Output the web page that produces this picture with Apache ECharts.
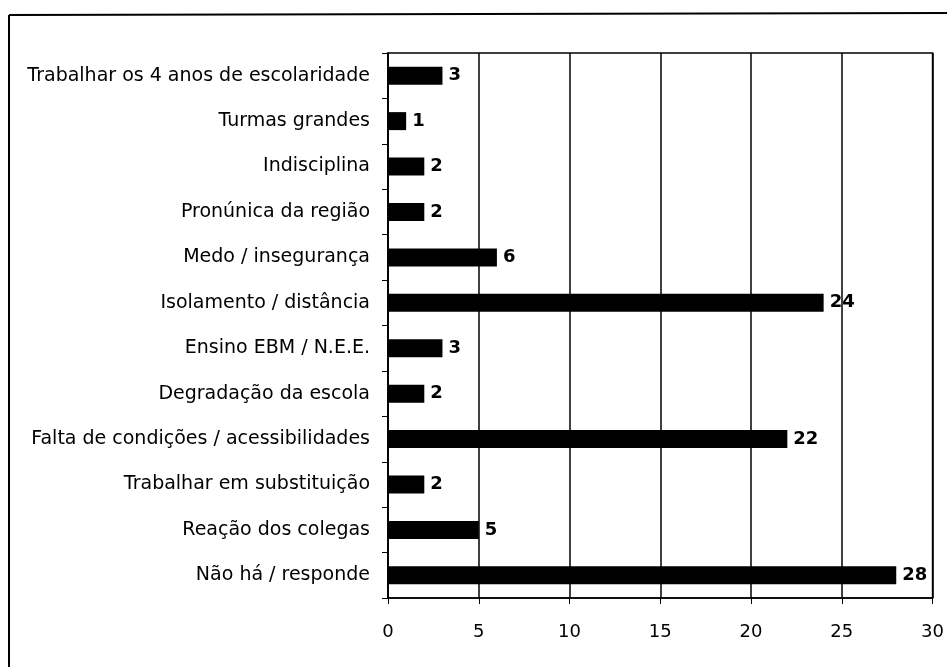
<!DOCTYPE html>
<html>
<head>
<meta charset="utf-8">
<script src="https://cdn.jsdelivr.net/npm/echarts@6/dist/echarts.min.js"></script>
<style>html,body{margin:0;padding:0;background:#fff;}#c{width:947px;height:667px;}</style>
</head>
<body>
<div id="c"></div>
<script>
const categories = [
  "Trabalhar os 4 anos de escolaridade",
  "Turmas grandes",
  "Indisciplina",
  "Pronúnica da região",
  "Medo / insegurança",
  "Isolamento / distância",
  "Ensino EBM / N.E.E.",
  "Degradação da escola",
  "Falta de condições / acessibilidades",
  "Trabalhar em substituição",
  "Reação dos colegas",
  "Não há / responde"
];
const values = [3, 1, 2, 2, 6, 24, 3, 2, 22, 2, 5, 28];
const xTicks = { min: 0, max: 30, interval: 5 };

const chart = echarts.init(document.getElementById('c'));
const font = "DejaVu Sans";
chart.setOption({
  animation: false,
  backgroundColor: '#fff',
  grid: { left: 388, top: 53, right: 14, bottom: 69, show: true, borderColor: '#000', borderWidth: 1.5, backgroundColor: '#fff' },
  xAxis: {
    type: 'value', min: xTicks.min, max: xTicks.max, interval: xTicks.interval,
    axisLine: { show: true, lineStyle: { color: '#000', width: 1.5 } },
    axisTick: { show: true, length: 6, lineStyle: { color: '#000', width: 1 } },
    splitLine: { show: true, lineStyle: { color: '#000', width: 1.5 } },
    axisLabel: { color: '#000', fontFamily: font, fontSize: 18, margin: 25 }
  },
  yAxis: {
    type: 'category', data: categories, inverse: true,
    axisLine: { show: true, lineStyle: { color: '#000', width: 1.5 } },
    axisTick: { show: true, length: 6, lineStyle: { color: '#000', width: 1 } },
    axisLabel: { color: '#000', fontFamily: font, fontSize: 19, margin: 18, padding: [4, 0, 0, 0] }
  },
  series: [{
    type: 'bar', data: values, barWidth: 18,
    itemStyle: { color: '#000' },
    label: { show: true, position: 'right', distance: 6, color: '#000', fontFamily: font, fontWeight: 'bold', fontSize: 18 }
  }],
  graphic: [
    { type: 'line', shape: { x1: 9, y1: 15, x2: 947, y2: 13 }, style: { stroke: '#000', lineWidth: 2 } },
    { type: 'line', shape: { x1: 9, y1: 15, x2: 9, y2: 667 }, style: { stroke: '#000', lineWidth: 2 } }
  ]
});
</script>
</body>
</html>
